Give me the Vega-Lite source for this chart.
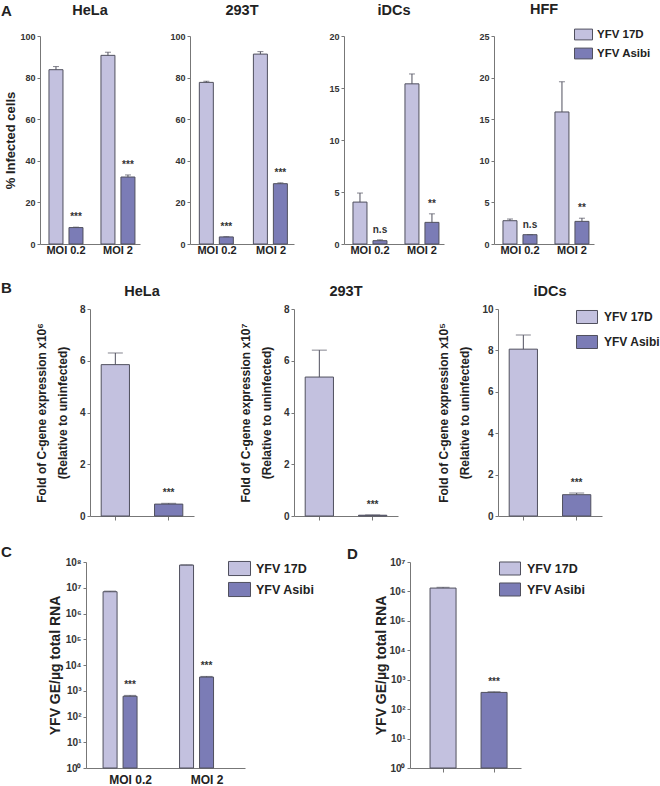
{
  "$schema": "https://vega.github.io/schema/vega-lite/v6.json",
  "background": "white",
  "padding": {"left": 1, "top": 2, "right": 0, "bottom": 0},
  "config": {
    "font": "Liberation Sans",
    "view": {"stroke": null},
    "axis": {"grid": false, "labelFont": "Liberation Sans", "labelFontWeight": "bold", "labelColor": "#333", "titleFont": "Liberation Sans", "titleFontWeight": "bold", "titleColor": "#222", "domainColor": "#777", "tickColor": "#777"},
    "title": {"font": "Liberation Sans", "fontWeight": "bold", "color": "#222"},
    "legend": {"labelFont": "Liberation Sans", "labelFontWeight": "bold", "labelColor": "#222", "padding": 0, "symbolStrokeColor": "#50505e", "symbolStrokeWidth": 1, "symbolOpacity": 1}
  },
  "datasets": {
    "A": [
      {"cell": "HeLa", "moi": "MOI 0.2", "virus": "YFV 17D", "v": 83.8, "hi": 85.3, "sig": ""},
      {"cell": "HeLa", "moi": "MOI 0.2", "virus": "YFV Asibi", "v": 7.9, "hi": 8.1, "sig": "***"},
      {"cell": "HeLa", "moi": "MOI 2", "virus": "YFV 17D", "v": 90.7, "hi": 92.2, "sig": ""},
      {"cell": "HeLa", "moi": "MOI 2", "virus": "YFV Asibi", "v": 32.2, "hi": 33.2, "sig": "***"},
      {"cell": "293T", "moi": "MOI 0.2", "virus": "YFV 17D", "v": 77.7, "hi": 78.3, "sig": ""},
      {"cell": "293T", "moi": "MOI 0.2", "virus": "YFV Asibi", "v": 3.4, "hi": 3.5, "sig": "***"},
      {"cell": "293T", "moi": "MOI 2", "virus": "YFV 17D", "v": 91.3, "hi": 92.5, "sig": ""},
      {"cell": "293T", "moi": "MOI 2", "virus": "YFV Asibi", "v": 29.0, "hi": 29.4, "sig": "***"},
      {"cell": "iDCs", "moi": "MOI 0.2", "virus": "YFV 17D", "v": 4.03, "hi": 4.9, "sig": ""},
      {"cell": "iDCs", "moi": "MOI 0.2", "virus": "YFV Asibi", "v": 0.32, "hi": 0.4, "sig": "n.s"},
      {"cell": "iDCs", "moi": "MOI 2", "virus": "YFV 17D", "v": 15.4, "hi": 16.35, "sig": ""},
      {"cell": "iDCs", "moi": "MOI 2", "virus": "YFV Asibi", "v": 2.08, "hi": 2.9, "sig": "**"},
      {"cell": "HFF", "moi": "MOI 0.2", "virus": "YFV 17D", "v": 2.8, "hi": 3.0, "sig": ""},
      {"cell": "HFF", "moi": "MOI 0.2", "virus": "YFV Asibi", "v": 1.12, "hi": 1.12, "sig": "n.s"},
      {"cell": "HFF", "moi": "MOI 2", "virus": "YFV 17D", "v": 15.87, "hi": 19.5, "sig": ""},
      {"cell": "HFF", "moi": "MOI 2", "virus": "YFV Asibi", "v": 2.72, "hi": 3.1, "sig": "**"}
    ],
    "B": [
      {"cell": "HeLa", "virus": "YFV 17D", "v": 5.85, "hi": 6.3, "sig": ""},
      {"cell": "HeLa", "virus": "YFV Asibi", "v": 0.46, "hi": 0.49, "sig": "***"},
      {"cell": "293T", "virus": "YFV 17D", "v": 5.37, "hi": 6.41, "sig": ""},
      {"cell": "293T", "virus": "YFV Asibi", "v": 0.03, "hi": 0.04, "sig": "***"},
      {"cell": "iDCs", "virus": "YFV 17D", "v": 8.06, "hi": 8.74, "sig": ""},
      {"cell": "iDCs", "virus": "YFV Asibi", "v": 1.03, "hi": 1.11, "sig": "***"}
    ],
    "C": [
      {"moi": "MOI 0.2", "virus": "YFV 17D", "v": 7000000, "hi": 7400000, "sig": ""},
      {"moi": "MOI 0.2", "virus": "YFV Asibi", "v": 610, "hi": 660, "sig": "***"},
      {"moi": "MOI 2", "virus": "YFV 17D", "v": 76000000, "hi": 77000000, "sig": ""},
      {"moi": "MOI 2", "virus": "YFV Asibi", "v": 3400, "hi": 3600, "sig": "***"}
    ],
    "D": [
      {"virus": "YFV 17D", "v": 1300000, "hi": 1380000, "sig": ""},
      {"virus": "YFV Asibi", "v": 370, "hi": 390, "sig": "***"}
    ],
    "blank": [{"k": ""}]
  },
  "spacing": 24,
  "resolve": {"legend": {"fill": "independent"}},
  "vconcat": [
    {
      "bounds": "flush",
      "spacing": 0,
      "resolve": {"legend": {"fill": "independent"}},
      "hconcat": [
        {"title": {"text": "A", "anchor": "start", "frame": "group", "fontSize": 15, "baseline": "alphabetic", "offset": 4}, "width": 39, "height": 10, "data": {"name": "blank"}, "mark": {"type": "text"}, "encoding": {"text": {"field": "k"}}},
        {
          "bounds": "flush",
          "spacing": 50,
          "resolve": {"legend": {"fill": "independent"}},
          "hconcat": [
            {
              "title": {"text": "HeLa", "fontSize": 14.5, "frame": "group", "anchor": "middle", "baseline": "alphabetic", "offset": 3},
              "width": 100, "height": 208,
              "data": {"name": "A"},
              "transform": [{"filter": "datum.cell === 'HeLa'"}],
              "encoding": {
                "x": {"field": "moi", "type": "nominal", "sort": ["MOI 0.2", "MOI 2"], "scale": {"paddingInner": 0.346, "paddingOuter": 0.135, "align": 0.64}, "axis": {"title": null, "labelAngle": 0, "ticks": false, "tickSize": 0, "labelFontSize": 11, "labelPadding": 0.5, "labelColor": "#222"}},
                "xOffset": {"field": "virus", "type": "nominal", "sort": ["YFV 17D", "YFV Asibi"], "scale": {"paddingInner": 0.3, "paddingOuter": 0}}
              },
              "layer": [
                {"mark": {"type": "bar", "stroke": "#50505e", "strokeWidth": 1},
                 "encoding": {
                   "y": {"field": "v", "type": "quantitative", "scale": {"domain": [0, 100], "nice": false}, "axis": {"values": [0, 20, 40, 60, 80, 100], "title": "% Infected cells", "titleFontSize": 13, "titlePadding": 2, "labelFontSize": 9, "tickSize": 3}},
                   "fill": {"field": "virus", "type": "nominal", "scale": {"domain": ["YFV 17D", "YFV Asibi"], "range": ["#c3c1df", "#7b7cb6"]}, "legend": null}}},
                {"mark": {"type": "rule", "color": "#50505e", "strokeWidth": 1}, "encoding": {"y": {"field": "v", "type": "quantitative", "scale": {"domain": [0, 100], "nice": false}}, "y2": {"field": "hi"}}},
                {"mark": {"type": "tick", "color": "#50505e", "size": 6, "thickness": 1}, "encoding": {"y": {"field": "hi", "type": "quantitative", "scale": {"domain": [0, 100], "nice": false}}}},
                {"mark": {"type": "text", "baseline": "alphabetic", "dy": -7, "fontSize": 10, "fontWeight": "bold", "color": "#333"}, "encoding": {"y": {"field": "hi", "type": "quantitative", "scale": {"domain": [0, 100], "nice": false}}, "text": {"field": "sig"}}}
              ]
            },
            {
              "title": {"text": "293T", "fontSize": 14.5, "frame": "group", "anchor": "middle", "baseline": "alphabetic", "offset": 3},
              "width": 104, "height": 208,
              "data": {"name": "A"},
              "transform": [{"filter": "datum.cell === '293T'"}],
              "encoding": {
                "x": {"field": "moi", "type": "nominal", "sort": ["MOI 0.2", "MOI 2"], "scale": {"paddingInner": 0.346, "paddingOuter": 0.135, "align": 0.64}, "axis": {"title": null, "labelAngle": 0, "ticks": false, "tickSize": 0, "labelFontSize": 11, "labelPadding": 0.5, "labelColor": "#222"}},
                "xOffset": {"field": "virus", "type": "nominal", "sort": ["YFV 17D", "YFV Asibi"], "scale": {"paddingInner": 0.3, "paddingOuter": 0}}
              },
              "layer": [
                {"mark": {"type": "bar", "stroke": "#50505e", "strokeWidth": 1},
                 "encoding": {
                   "y": {"field": "v", "type": "quantitative", "scale": {"domain": [0, 100], "nice": false}, "axis": {"values": [0, 20, 40, 60, 80, 100], "title": null, "labelFontSize": 9, "tickSize": 3}},
                   "fill": {"field": "virus", "type": "nominal", "scale": {"domain": ["YFV 17D", "YFV Asibi"], "range": ["#c3c1df", "#7b7cb6"]}, "legend": null}}},
                {"mark": {"type": "rule", "color": "#50505e", "strokeWidth": 1}, "encoding": {"y": {"field": "v", "type": "quantitative", "scale": {"domain": [0, 100], "nice": false}}, "y2": {"field": "hi"}}},
                {"mark": {"type": "tick", "color": "#50505e", "size": 6, "thickness": 1}, "encoding": {"y": {"field": "hi", "type": "quantitative", "scale": {"domain": [0, 100], "nice": false}}}},
                {"mark": {"type": "text", "baseline": "alphabetic", "dy": -7, "fontSize": 10, "fontWeight": "bold", "color": "#333"}, "encoding": {"y": {"field": "hi", "type": "quantitative", "scale": {"domain": [0, 100], "nice": false}}, "text": {"field": "sig"}}}
              ]
            },
            {
              "title": {"text": "iDCs", "fontSize": 14.5, "frame": "group", "anchor": "middle", "baseline": "alphabetic", "offset": 3},
              "width": 100, "height": 208,
              "data": {"name": "A"},
              "transform": [{"filter": "datum.cell === 'iDCs'"}],
              "encoding": {
                "x": {"field": "moi", "type": "nominal", "sort": ["MOI 0.2", "MOI 2"], "scale": {"paddingInner": 0.346, "paddingOuter": 0.135, "align": 0.64}, "axis": {"title": null, "labelAngle": 0, "ticks": false, "tickSize": 0, "labelFontSize": 11, "labelPadding": 0.5, "labelColor": "#222"}},
                "xOffset": {"field": "virus", "type": "nominal", "sort": ["YFV 17D", "YFV Asibi"], "scale": {"paddingInner": 0.3, "paddingOuter": 0}}
              },
              "layer": [
                {"mark": {"type": "bar", "stroke": "#50505e", "strokeWidth": 1},
                 "encoding": {
                   "y": {"field": "v", "type": "quantitative", "scale": {"domain": [0, 20], "nice": false}, "axis": {"values": [0, 5, 10, 15, 20], "title": null, "labelFontSize": 9, "tickSize": 3}},
                   "fill": {"field": "virus", "type": "nominal", "scale": {"domain": ["YFV 17D", "YFV Asibi"], "range": ["#c3c1df", "#7b7cb6"]}, "legend": null}}},
                {"mark": {"type": "rule", "color": "#50505e", "strokeWidth": 1}, "encoding": {"y": {"field": "v", "type": "quantitative", "scale": {"domain": [0, 20], "nice": false}}, "y2": {"field": "hi"}}},
                {"mark": {"type": "tick", "color": "#50505e", "size": 6, "thickness": 1}, "encoding": {"y": {"field": "hi", "type": "quantitative", "scale": {"domain": [0, 20], "nice": false}}}},
                {"mark": {"type": "text", "baseline": "alphabetic", "dy": -7, "fontSize": 10, "fontWeight": "bold", "color": "#333"}, "encoding": {"y": {"field": "hi", "type": "quantitative", "scale": {"domain": [0, 20], "nice": false}}, "text": {"field": "sig"}}}
              ]
            },
            {
              "title": {"text": "HFF", "fontSize": 14.5, "frame": "group", "anchor": "middle", "baseline": "alphabetic", "offset": -3.5},
              "width": 100, "height": 208,
              "data": {"name": "A"},
              "transform": [{"filter": "datum.cell === 'HFF'"}],
              "encoding": {
                "x": {"field": "moi", "type": "nominal", "sort": ["MOI 0.2", "MOI 2"], "scale": {"paddingInner": 0.346, "paddingOuter": 0.135, "align": 0.64}, "axis": {"title": null, "labelAngle": 0, "ticks": false, "tickSize": 0, "labelFontSize": 11, "labelPadding": 0.5, "labelColor": "#222"}},
                "xOffset": {"field": "virus", "type": "nominal", "sort": ["YFV 17D", "YFV Asibi"], "scale": {"paddingInner": 0.3, "paddingOuter": 0}}
              },
              "layer": [
                {"mark": {"type": "bar", "stroke": "#50505e", "strokeWidth": 1},
                 "encoding": {
                   "y": {"field": "v", "type": "quantitative", "scale": {"domain": [0, 25], "nice": false}, "axis": {"values": [0, 5, 10, 15, 20, 25], "title": null, "labelFontSize": 9, "tickSize": 3}},
                   "fill": {"field": "virus", "type": "nominal", "scale": {"domain": ["YFV 17D", "YFV Asibi"], "range": ["#c3c1df", "#7b7cb6"]},
                     "legend": {"orient": "none", "legendX": 80, "legendY": -11, "title": null, "symbolType": "M-1,-0.6H1V0.6H-1Z", "symbolSize": 324, "labelFontSize": 11.5, "rowPadding": 2, "labelOffset": 4}}}},
                {"mark": {"type": "rule", "color": "#50505e", "strokeWidth": 1}, "encoding": {"y": {"field": "v", "type": "quantitative", "scale": {"domain": [0, 25], "nice": false}}, "y2": {"field": "hi"}}},
                {"mark": {"type": "tick", "color": "#50505e", "size": 6, "thickness": 1}, "encoding": {"y": {"field": "hi", "type": "quantitative", "scale": {"domain": [0, 25], "nice": false}}}},
                {"mark": {"type": "text", "baseline": "alphabetic", "dy": -7, "fontSize": 10, "fontWeight": "bold", "color": "#333"}, "encoding": {"y": {"field": "hi", "type": "quantitative", "scale": {"domain": [0, 25], "nice": false}}, "text": {"field": "sig"}}}
              ]
            }
          ]
        }
      ]
    },
    {
      "bounds": "flush",
      "spacing": 0,
      "resolve": {"legend": {"fill": "independent"}},
      "hconcat": [
        {"title": {"text": "B", "anchor": "start", "frame": "group", "fontSize": 15, "baseline": "alphabetic", "offset": 0.3}, "width": 89, "height": 10, "data": {"name": "blank"}, "mark": {"type": "text"}, "encoding": {"text": {"field": "k"}}},
        {
          "bounds": "flush",
          "spacing": 100,
          "resolve": {"legend": {"fill": "independent"}},
          "hconcat": [
            {
              "title": {"text": "HeLa", "fontSize": 14.5, "frame": "group", "anchor": "middle", "baseline": "alphabetic", "offset": -6},
              "width": 104, "height": 207,
              "data": {"name": "B"},
              "transform": [{"filter": "datum.cell === 'HeLa'"}],
              "encoding": {"x": {"field": "virus", "type": "nominal", "sort": ["YFV 17D", "YFV Asibi"], "scale": {"paddingInner": 0.47, "paddingOuter": 0.21}, "axis": {"title": null, "labels": false, "ticks": true, "tickSize": 4}}},
              "layer": [
                {"mark": {"type": "bar", "stroke": "#50505e", "strokeWidth": 1},
                 "encoding": {
                   "y": {"field": "v", "type": "quantitative", "scale": {"domain": [0, 8], "nice": false}, "axis": {"values": [0, 2, 4, 6, 8], "title": ["Fold of C-gene expression x10⁶", "(Relative to uninfected)"], "titleFontSize": 12, "titleLineHeight": 21, "titlePadding": 10, "labelFontSize": 10, "tickSize": 3}},
                   "fill": {"field": "virus", "type": "nominal", "scale": {"domain": ["YFV 17D", "YFV Asibi"], "range": ["#c3c1df", "#7b7cb6"]}, "legend": null}}},
                {"mark": {"type": "rule", "color": "#50505e", "strokeWidth": 1}, "encoding": {"y": {"field": "v", "type": "quantitative", "scale": {"domain": [0, 8], "nice": false}}, "y2": {"field": "hi"}}},
                {"mark": {"type": "tick", "color": "#50505e", "size": 15, "thickness": 1}, "encoding": {"y": {"field": "hi", "type": "quantitative", "scale": {"domain": [0, 8], "nice": false}}}},
                {"mark": {"type": "text", "baseline": "alphabetic", "dy": -7, "fontSize": 10, "fontWeight": "bold", "color": "#333"}, "encoding": {"y": {"field": "hi", "type": "quantitative", "scale": {"domain": [0, 8], "nice": false}}, "text": {"field": "sig"}}}
              ]
            },
            {
              "title": {"text": "293T", "fontSize": 14.5, "frame": "group", "anchor": "middle", "baseline": "alphabetic", "offset": -6},
              "width": 104, "height": 207,
              "data": {"name": "B"},
              "transform": [{"filter": "datum.cell === '293T'"}],
              "encoding": {"x": {"field": "virus", "type": "nominal", "sort": ["YFV 17D", "YFV Asibi"], "scale": {"paddingInner": 0.47, "paddingOuter": 0.21}, "axis": {"title": null, "labels": false, "ticks": true, "tickSize": 4}}},
              "layer": [
                {"mark": {"type": "bar", "stroke": "#50505e", "strokeWidth": 1},
                 "encoding": {
                   "y": {"field": "v", "type": "quantitative", "scale": {"domain": [0, 8], "nice": false}, "axis": {"values": [0, 2, 4, 6, 8], "title": ["Fold of C-gene expression x10⁷", "(Relative to uninfected)"], "titleFontSize": 12, "titleLineHeight": 21, "titlePadding": 10, "labelFontSize": 10, "tickSize": 3}},
                   "fill": {"field": "virus", "type": "nominal", "scale": {"domain": ["YFV 17D", "YFV Asibi"], "range": ["#c3c1df", "#7b7cb6"]}, "legend": null}}},
                {"mark": {"type": "rule", "color": "#50505e", "strokeWidth": 1}, "encoding": {"y": {"field": "v", "type": "quantitative", "scale": {"domain": [0, 8], "nice": false}}, "y2": {"field": "hi"}}},
                {"mark": {"type": "tick", "color": "#50505e", "size": 15, "thickness": 1}, "encoding": {"y": {"field": "hi", "type": "quantitative", "scale": {"domain": [0, 8], "nice": false}}}},
                {"mark": {"type": "text", "baseline": "alphabetic", "dy": -7, "fontSize": 10, "fontWeight": "bold", "color": "#333"}, "encoding": {"y": {"field": "hi", "type": "quantitative", "scale": {"domain": [0, 8], "nice": false}}, "text": {"field": "sig"}}}
              ]
            },
            {
              "title": {"text": "iDCs", "fontSize": 14.5, "frame": "group", "anchor": "middle", "baseline": "alphabetic", "offset": -6},
              "width": 104, "height": 207,
              "data": {"name": "B"},
              "transform": [{"filter": "datum.cell === 'iDCs'"}],
              "encoding": {"x": {"field": "virus", "type": "nominal", "sort": ["YFV 17D", "YFV Asibi"], "scale": {"paddingInner": 0.47, "paddingOuter": 0.21}, "axis": {"title": null, "labels": false, "ticks": true, "tickSize": 4}}},
              "layer": [
                {"mark": {"type": "bar", "stroke": "#50505e", "strokeWidth": 1},
                 "encoding": {
                   "y": {"field": "v", "type": "quantitative", "scale": {"domain": [0, 10], "nice": false}, "axis": {"values": [0, 2, 4, 6, 8, 10], "title": ["Fold of C-gene expression x10⁵", "(Relative to uninfected)"], "titleFontSize": 12, "titleLineHeight": 21, "titlePadding": 10, "labelFontSize": 10, "tickSize": 3}},
                   "fill": {"field": "virus", "type": "nominal", "scale": {"domain": ["YFV 17D", "YFV Asibi"], "range": ["#c3c1df", "#7b7cb6"]},
                     "legend": {"orient": "none", "legendX": 78, "legendY": -3, "title": null, "symbolType": "M-1,-0.62H1V0.62H-1Z", "symbolSize": 441, "labelFontSize": 12, "rowPadding": 5, "labelOffset": 6}}}},
                {"mark": {"type": "rule", "color": "#50505e", "strokeWidth": 1}, "encoding": {"y": {"field": "v", "type": "quantitative", "scale": {"domain": [0, 10], "nice": false}}, "y2": {"field": "hi"}}},
                {"mark": {"type": "tick", "color": "#50505e", "size": 15, "thickness": 1}, "encoding": {"y": {"field": "hi", "type": "quantitative", "scale": {"domain": [0, 10], "nice": false}}}},
                {"mark": {"type": "text", "baseline": "alphabetic", "dy": -7, "fontSize": 10, "fontWeight": "bold", "color": "#333"}, "encoding": {"y": {"field": "hi", "type": "quantitative", "scale": {"domain": [0, 10], "nice": false}}, "text": {"field": "sig"}}}
              ]
            }
          ]
        }
      ]
    },
    {
      "bounds": "flush",
      "spacing": 0,
      "resolve": {"legend": {"fill": "independent"}},
      "hconcat": [
        {"title": {"text": "C", "anchor": "start", "frame": "group", "fontSize": 15, "baseline": "alphabetic", "offset": -11}, "width": 85, "height": 10, "data": {"name": "blank"}, "mark": {"type": "text"}, "encoding": {"text": {"field": "k"}}},
        {
          "bounds": "flush",
          "spacing": 165,
          "resolve": {"legend": {"fill": "independent"}},
          "hconcat": [
            {
              "width": 159, "height": 206,
              "data": {"name": "C"},
              "encoding": {
                "x": {"field": "moi", "type": "nominal", "sort": ["MOI 0.2", "MOI 2"], "scale": {"paddingInner": 0.281, "paddingOuter": 0.18, "align": 0.62}, "axis": {"title": null, "labelAngle": 0, "ticks": false, "tickSize": 0, "labelFontSize": 12, "labelPadding": 6, "labelColor": "#222"}},
                "xOffset": {"field": "virus", "type": "nominal", "sort": ["YFV 17D", "YFV Asibi"], "scale": {"paddingInner": 0.333, "paddingOuter": 0}}
              },
              "layer": [
                {"mark": {"type": "bar", "stroke": "#50505e", "strokeWidth": 1},
                 "encoding": {
                   "y": {"field": "v", "type": "quantitative", "scale": {"type": "log", "domain": [1, 100000000], "nice": false}, "axis": {"values": [1, 10, 100, 1000, 10000, 100000, 1000000, 10000000, 100000000], "labelExpr": "'10' + ['⁰','¹','²','³','⁴','⁵','⁶','⁷','⁸'][round(log(datum.value) / LN10)]", "title": "YFV GE/µg total RNA", "titleFontSize": 14, "titlePadding": 2, "labelFontSize": 10, "tickSize": 3}},
                   "y2": {"datum": 1},
                   "fill": {"field": "virus", "type": "nominal", "scale": {"domain": ["YFV 17D", "YFV Asibi"], "range": ["#c3c1df", "#7b7cb6"]},
                     "legend": {"orient": "none", "legendX": 142, "legendY": -5, "title": null, "symbolType": "M-1,-0.64H1V0.64H-1Z", "symbolSize": 484, "labelFontSize": 12.5, "rowPadding": 0, "labelOffset": 5}}}},
                {"mark": {"type": "rule", "color": "#50505e", "strokeWidth": 1}, "encoding": {"y": {"field": "v", "type": "quantitative", "scale": {"type": "log", "domain": [1, 100000000], "nice": false}}, "y2": {"field": "hi"}}},
                {"mark": {"type": "tick", "color": "#50505e", "size": 12, "thickness": 1}, "encoding": {"y": {"field": "hi", "type": "quantitative", "scale": {"type": "log", "domain": [1, 100000000], "nice": false}}}},
                {"mark": {"type": "text", "baseline": "alphabetic", "dy": -7, "fontSize": 10, "fontWeight": "bold", "color": "#333"}, "encoding": {"y": {"field": "hi", "type": "quantitative", "scale": {"type": "log", "domain": [1, 100000000], "nice": false}}, "text": {"field": "sig"}}}
              ]
            },
            {
              "title": {"text": "D", "anchor": "start", "frame": "group", "dx": -63, "fontSize": 15, "baseline": "alphabetic", "offset": -17},
              "width": 111, "height": 206,
              "data": {"name": "D"},
              "encoding": {"x": {"field": "virus", "type": "nominal", "sort": ["YFV 17D", "YFV Asibi"], "scale": {"paddingInner": 0.49, "paddingOuter": 0.333, "align": 0.59}, "axis": {"title": null, "labels": false, "ticks": true, "tickSize": 4}}},
              "layer": [
                {"mark": {"type": "bar", "stroke": "#50505e", "strokeWidth": 1},
                 "encoding": {
                   "y": {"field": "v", "type": "quantitative", "scale": {"type": "log", "domain": [1, 10000000], "nice": false}, "axis": {"values": [1, 10, 100, 1000, 10000, 100000, 1000000, 10000000], "labelExpr": "'10' + ['⁰','¹','²','³','⁴','⁵','⁶','⁷','⁸'][round(log(datum.value) / LN10)]", "title": "YFV GE/µg total RNA", "titleFontSize": 14, "titlePadding": 0, "labelFontSize": 10, "tickSize": 3}},
                   "y2": {"datum": 1},
                   "fill": {"field": "virus", "type": "nominal", "scale": {"domain": ["YFV 17D", "YFV Asibi"], "range": ["#c3c1df", "#7b7cb6"]},
                     "legend": {"orient": "none", "legendX": 89, "legendY": -4.5, "title": null, "symbolType": "M-1,-0.62H1V0.62H-1Z", "symbolSize": 441, "labelFontSize": 12.5, "rowPadding": 1, "labelOffset": 6}}}},
                {"mark": {"type": "rule", "color": "#50505e", "strokeWidth": 1}, "encoding": {"y": {"field": "v", "type": "quantitative", "scale": {"type": "log", "domain": [1, 10000000], "nice": false}}, "y2": {"field": "hi"}}},
                {"mark": {"type": "tick", "color": "#50505e", "size": 13, "thickness": 1}, "encoding": {"y": {"field": "hi", "type": "quantitative", "scale": {"type": "log", "domain": [1, 10000000], "nice": false}}}},
                {"mark": {"type": "text", "baseline": "alphabetic", "dy": -7, "fontSize": 10, "fontWeight": "bold", "color": "#333"}, "encoding": {"y": {"field": "hi", "type": "quantitative", "scale": {"type": "log", "domain": [1, 10000000], "nice": false}}, "text": {"field": "sig"}}}
              ]
            }
          ]
        }
      ]
    }
  ]
}
